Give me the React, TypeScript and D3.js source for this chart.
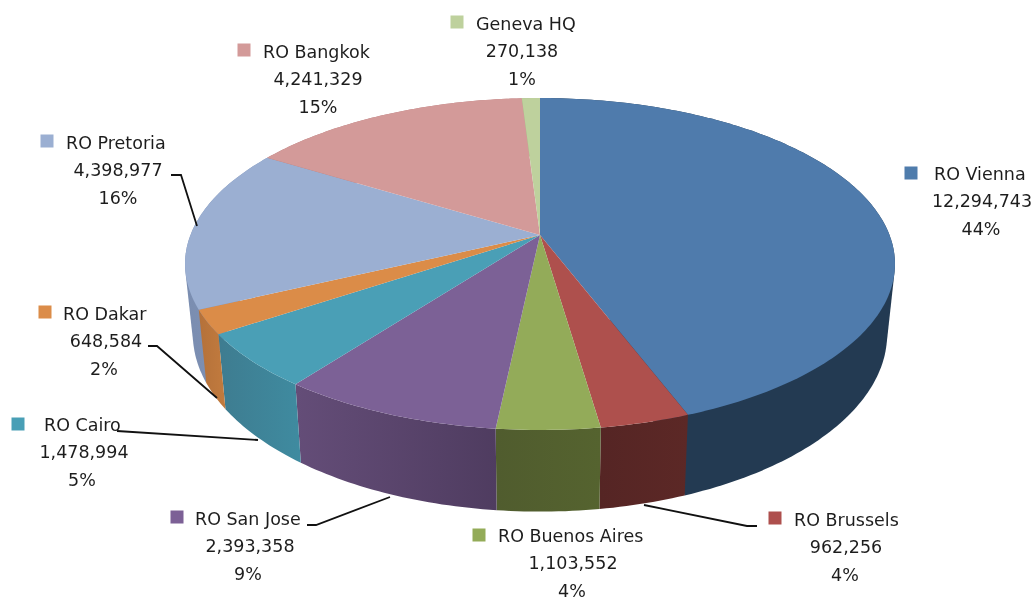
import React from "react";
import * as d3 from "d3";

const categories = ["RO Vienna", "RO Brussels", "RO Buenos Aires", "RO San Jose", "RO Cairo", "RO Dakar", "RO Pretoria", "RO Bangkok", "Geneva HQ"];
const amounts = [12294743, 962256, 1103552, 2393358, 1478994, 648584, 4398977, 4241329, 270138];
const percents = ["44%", "4%", "4%", "9%", "5%", "2%", "16%", "15%", "1%"];

const topColors = ["#4f7bac", "#ae504d", "#93ab59", "#7c6196", "#4a9fb6", "#db8c48", "#9bafd2", "#d39a99", "#bed19d"];
const wallLight = ["#233a52", "#5c2826", "#55632f", "#644d78", "#3f8ba0", "#c27b3e", "#8496ba", "#b98080", "#a4b586"];
const wallDark = ["#233a52", "#552524", "#505c2e", "#4f3c60", "#3e7c90", "#b4713a", "#7a8db0", "#b07878", "#9cad7f"];

// swatch centre, name start x, value and percent centre x, first row centre y
const labelLayout = [
  { sx: 911, sy: 173, nx: 934, vx: 982, px: 981, y: 173 },
  { sx: 775, sy: 518, nx: 794, vx: 846, px: 845, y: 519 },
  { sx: 479, sy: 535, nx: 498, vx: 573, px: 572, y: 535 },
  { sx: 177, sy: 517, nx: 195, vx: 250, px: 248, y: 518 },
  { sx: 18, sy: 424, nx: 44, vx: 84, px: 82, y: 424 },
  { sx: 45, sy: 312, nx: 63, vx: 106, px: 104, y: 313 },
  { sx: 47, sy: 141, nx: 66, vx: 118, px: 118, y: 142 },
  { sx: 244, sy: 50, nx: 263, vx: 318, px: 318, y: 51 },
  { sx: 457, sy: 22, nx: 476, vx: 522, px: 522, y: 23 },
];

const leaders: [number, number][][] = [
  [[644, 505], [747, 526], [757, 526]],
  [[307, 525], [316, 525], [390, 497]],
  [[117, 431], [258, 440]],
  [[148, 346], [157, 346], [217, 398]],
  [[171, 175], [181, 175], [197, 226]],
];

const width = 1036;
const height = 601;
const cx = 540;
const cy = 235;

// perspective projection of the unit circle onto the tilted pie top
const persp = -0.1747;
const scaleX = 349.5;
const scaleY = 160.9;
const rimPoint = (a: number): [number, number] => {
  const u = Math.sin(a);
  const v = -Math.cos(a);
  const w = 1 + persp * v;
  return [(scaleX * u) / w, (scaleY * v) / w];
};
const bottomPoint = (a: number): [number, number] => {
  const [x, y] = rimPoint(a);
  return [x * 0.978, 68 + y * 1.07];
};

const arcs = d3.pie<number>().sort(null).startAngle(0).endAngle(2 * Math.PI)(amounts);
const fmt = d3.format(",");

// the two slices that hold the side silhouettes go first, the rest paint over their hulls
const wallOrder = [0, 6, 7, 8, 1, 2, 3, 4, 5];

function anglesOf(a0: number, a1: number) {
  const n = Math.max(2, Math.ceil((a1 - a0) / (Math.PI / 180)));
  return d3.range(n + 1).map((i) => a0 + ((a1 - a0) * i) / n);
}

function topPath(a0: number, a1: number) {
  const line = d3.line();
  return (line([[0, 0], ...anglesOf(a0, a1).map(rimPoint)]) ?? "") + "Z";
}

function wallPath(i: number, a0: number, a1: number) {
  const angles = anglesOf(a0, a1);
  const line = d3.line();
  if (i === 0 || i === 6) {
    const hull = d3.polygonHull([...angles.map(rimPoint), ...angles.map(bottomPoint)]) ?? [];
    return (line(hull) ?? "") + "Z";
  }
  return d3
    .pairs(angles)
    .map(([p, q]) => (line([rimPoint(p), rimPoint(q), bottomPoint(q), bottomPoint(p)]) ?? "") + "Z")
    .join("");
}

export default function App() {
  return (
    <svg
      width={width}
      height={height}
      viewBox={`0 0 ${width} ${height}`}
      style={{ position: "absolute", left: 0, top: 0, background: "#fff" }}
      fontFamily="'DejaVu Sans', sans-serif"
      fontSize={17.5}
    >
      <defs>
        <filter id="soft" x="-5%" y="-5%" width="110%" height="110%">
          <feGaussianBlur stdDeviation="0.35" />
        </filter>
        {arcs.map((d, i) => (
          <linearGradient key={i} id={`wall${i}`} x1="0" x2="1" y1="0" y2="0">
            <stop offset="0" stopColor={i === 3 ? wallLight[i] : wallDark[i]} />
            <stop offset="1" stopColor={i === 3 ? wallDark[i] : wallLight[i]} />
          </linearGradient>
        ))}
      </defs>
      <g transform={`translate(${cx},${cy})`}>
        {wallOrder.map((i) => (
          <path key={i} d={wallPath(i, arcs[i].startAngle, arcs[i].endAngle)} fill={`url(#wall${i})`} />
        ))}
        {arcs.map((d, i) => (
          <path key={i} d={topPath(d.startAngle, d.endAngle)} fill={topColors[i]} />
        ))}
      </g>
      <g fill="none" stroke="#111" strokeWidth={1.8}>
        {leaders.map((pts, i) => (
          <path key={i} d={d3.line()(pts) ?? ""} />
        ))}
      </g>
      <g filter="url(#soft)" fill="#1f1f1f">
        {categories.map((name, i) => {
          const l = labelLayout[i];
          return (
            <g key={name}>
              <rect x={l.sx - 6.5} y={l.sy - 6.5} width={13} height={13} fill={topColors[i]} />
              <text x={l.nx} y={l.y + 6.5}>{name}</text>
              <text x={l.vx} y={l.y + 34} textAnchor="middle">{fmt(amounts[i])}</text>
              <text x={l.px} y={l.y + 61.5} textAnchor="middle">{percents[i]}</text>
            </g>
          );
        })}
      </g>
    </svg>
  );
}
